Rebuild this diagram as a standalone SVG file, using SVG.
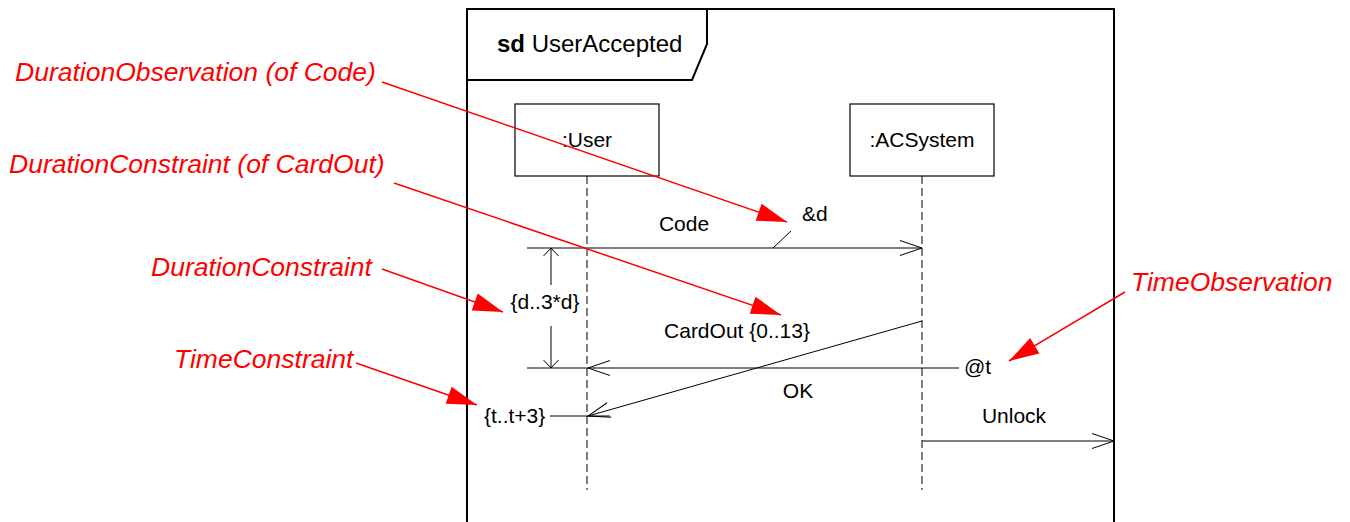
<svg xmlns="http://www.w3.org/2000/svg" width="1350" height="522" viewBox="0 0 1350 522">
<style>
.t{font-family:"Liberation Sans",Arial,sans-serif;font-size:21px;fill:#000}
.r{font-family:"Liberation Sans",Arial,sans-serif;font-size:26.5px;font-style:italic;fill:#ff0000}
.ln{stroke:#000;stroke-width:1;fill:none}
.life{stroke:#000;stroke-width:1;stroke-dasharray:8,4;fill:none}
.rl{stroke:#ff0000;stroke-width:1.5;fill:none}
.box{fill:#fff;stroke:#000;stroke-width:1.2}
</style>
<defs>
<marker id="open" markerUnits="userSpaceOnUse" markerWidth="24" markerHeight="17" refX="22" refY="7.5" orient="auto" overflow="visible">
<path d="M0,0 L22,7.5 L0,15" fill="none" stroke="#000" stroke-width="1"/>
</marker>
<marker id="red" markerUnits="userSpaceOnUse" markerWidth="31" markerHeight="19" refX="30" refY="9" orient="auto" overflow="visible">
<path d="M0,0 L30,9 L0,18 Z" fill="#ff0000"/>
</marker>
</defs>
<rect width="1350" height="522" fill="#fff"/>
<g id="frame">
<path d="M467,530 L467,9 L1114,9 L1114,530" fill="none" stroke="#000" stroke-width="2"/>
<path d="M467,80 L692,80 L707,44 L707,9" fill="none" stroke="#000" stroke-width="2"/>
<text x="497" y="52" font-family="Liberation Sans,Arial,sans-serif" font-size="24"><tspan font-weight="bold">sd</tspan> UserAccepted</text>
</g>
<g id="user">
<rect class="box" x="515" y="104" width="144" height="72"/>
<text class="t" x="587" y="147" text-anchor="middle">:User</text>
<line class="life" x1="587" y1="176" x2="587" y2="490"/>
</g>
<g id="acsystem">
<rect class="box" x="850" y="104" width="144" height="72"/>
<text class="t" x="922" y="147" text-anchor="middle">:ACSystem</text>
<line class="life" x1="922" y1="176" x2="922" y2="490"/>
</g>
<g id="connectors">
<line class="ln" x1="527" y1="248" x2="922" y2="248" marker-end="url(#open)"/>
<text class="t" x="684" y="231" text-anchor="middle">Code</text>
<line class="ln" x1="773" y1="248" x2="791" y2="231"/>
<text class="t" x="802" y="221">&amp;d</text>
<line class="ln" x1="922" y1="321" x2="588" y2="416" marker-end="url(#open)"/>
<text class="t" x="737" y="338" text-anchor="middle">CardOut {0..13}</text>
<line class="ln" x1="959" y1="368" x2="588" y2="368" marker-end="url(#open)"/>
<line class="ln" x1="527" y1="368" x2="588" y2="368"/>
<text class="t" x="798" y="398" text-anchor="middle">OK</text>
<text class="t" x="964" y="374">@t</text>
<line class="ln" x1="922" y1="441" x2="1114" y2="441" marker-end="url(#open)"/>
<text class="t" x="1014" y="423" text-anchor="middle">Unlock</text>
<line class="ln" x1="550" y1="416" x2="610" y2="416"/>
<text class="t" x="484" y="423">{t..t+3}</text>
<line class="ln" x1="551" y1="248" x2="551" y2="285"/>
<line class="ln" x1="551" y1="326" x2="551" y2="368"/>
<path class="ln" d="M543.5,256 L551,248 L558.5,256"/>
<path class="ln" d="M543.5,360 L551,368 L558.5,360"/>
<text class="t" x="545" y="309" text-anchor="middle">{d..3*d}</text>
</g>
<g id="annotations">
<text class="r" x="15" y="81">DurationObservation (of Code)</text>
<line class="rl" x1="382" y1="82" x2="787" y2="222" marker-end="url(#red)"/>
<text class="r" x="9" y="173">DurationConstraint (of CardOut)</text>
<line class="rl" x1="394" y1="183" x2="781" y2="315" marker-end="url(#red)"/>
<text class="r" x="151" y="276">DurationConstraint</text>
<line class="rl" x1="382" y1="269" x2="503" y2="312" marker-end="url(#red)"/>
<text class="r" x="174" y="368">TimeConstraint</text>
<line class="rl" x1="356" y1="363" x2="477" y2="405" marker-end="url(#red)"/>
<text class="r" x="1131" y="291">TimeObservation</text>
<line class="rl" x1="1125" y1="292" x2="1009" y2="361" marker-end="url(#red)"/>
</g>
</svg>
